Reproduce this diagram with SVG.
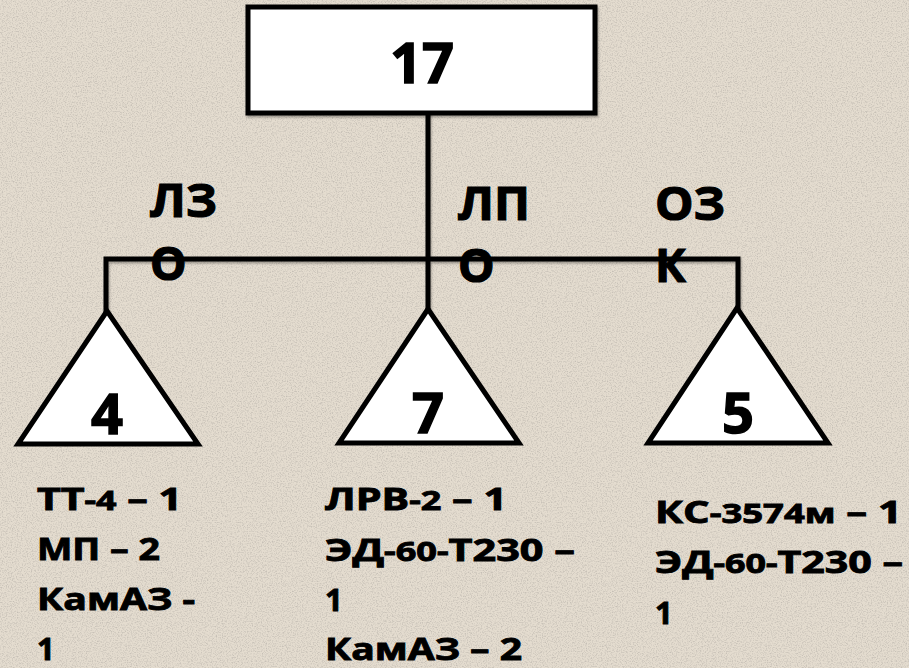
<svg xmlns="http://www.w3.org/2000/svg" width="909" height="668" viewBox="0 0 909 668">
<defs>
<filter id="noise" x="0" y="0" width="100%" height="100%">
<feTurbulence type="fractalNoise" baseFrequency="0.8" numOctaves="2" seed="3" result="n"/>
<feColorMatrix type="matrix" values="0 0 0 0 0.45  0 0 0 0 0.42  0 0 0 0 0.38  0 0 0 -2.6 1.45"/>
</filter>
<filter id="sh" x="-10%" y="-10%" width="120%" height="130%">
<feDropShadow dx="1" dy="2" stdDeviation="1.2" flood-color="#000" flood-opacity="0.3"/>
</filter>
<style>
.ln{stroke:#000;stroke-width:5;fill:none;stroke-linecap:square}
.shp{fill:#fff;stroke:#000;stroke-width:5;stroke-linejoin:miter}
.t{font-family:"Open Sans","Liberation Sans",sans-serif;font-weight:bold;fill:#000;stroke:#000;stroke-width:0.9}
.big{font-size:56px;text-anchor:middle;stroke-width:1.4}
.lab{font-size:46px;stroke-width:1.2}
.body{font-size:31px}
.sm{font-size:27px}
</style>
</defs>
<rect width="909" height="668" fill="#e4dccf"/>
<rect width="909" height="668" filter="url(#noise)" opacity="0.6"/>

<g id="connectors" filter="url(#sh)">
<line class="ln" x1="428" y1="113" x2="428" y2="309"/>
<polyline class="ln" points="106,311 106,259 738,259 738,308"/>
</g>

<g id="node-17" filter="url(#sh)">
<rect class="shp" x="248" y="7" width="347" height="106"/>
<text class="t big" x="422" y="83">17</text>
</g>

<g id="node-4">
<polygon class="shp" points="107,311 18,444 198,444"/>
<text class="t big" x="107" y="434">4</text>
</g>
<g id="node-7">
<polygon class="shp" points="428,309 339,443 519,443"/>
<text class="t big" x="428" y="433">7</text>
</g>
<g id="node-5">
<polygon class="shp" points="737,308 648,443 828,443"/>
<text class="t big" x="738" y="433">5</text>
</g>

<g id="labels">
<text class="t lab" x="150" y="217" textLength="67" lengthAdjust="spacingAndGlyphs">ЛЗ</text>
<text class="t lab" x="150" y="280">О</text>
<text class="t lab" x="458" y="220" textLength="72" lengthAdjust="spacingAndGlyphs">ЛП</text>
<text class="t lab" x="458" y="282">О</text>
<text class="t lab" x="655" y="220" textLength="70" lengthAdjust="spacingAndGlyphs">ОЗ</text>
<text class="t lab" x="655" y="282">К</text>
</g>

<g id="list-4">
<text class="t body" x="37" y="510" textLength="145" lengthAdjust="spacingAndGlyphs">ТТ<tspan class="sm">-4</tspan> – 1</text>
<text class="t body" x="37" y="560" textLength="123" lengthAdjust="spacingAndGlyphs">МП – 2</text>
<text class="t body" x="37" y="610" textLength="158" lengthAdjust="spacingAndGlyphs">КамАЗ -</text>
<text class="t body" x="37" y="660">1</text>
</g>
<g id="list-7">
<text class="t body" x="325" y="510" textLength="182" lengthAdjust="spacingAndGlyphs">ЛРВ<tspan class="sm">-2</tspan> – 1</text>
<text class="t body" x="325" y="561" textLength="250" lengthAdjust="spacingAndGlyphs">ЭД<tspan class="sm">-60-</tspan>Т230 –</text>
<text class="t body" x="325" y="611">1</text>
<text class="t body" x="325" y="660" textLength="197" lengthAdjust="spacingAndGlyphs">КамАЗ – 2</text>
</g>
<g id="list-5">
<text class="t body" x="655" y="523" textLength="247" lengthAdjust="spacingAndGlyphs">КС<tspan class="sm">-3574м</tspan> – 1</text>
<text class="t body" x="655" y="573" textLength="248" lengthAdjust="spacingAndGlyphs">ЭД<tspan class="sm">-60-</tspan>Т230 –</text>
<text class="t body" x="655" y="624">1</text>
</g>
</svg>
